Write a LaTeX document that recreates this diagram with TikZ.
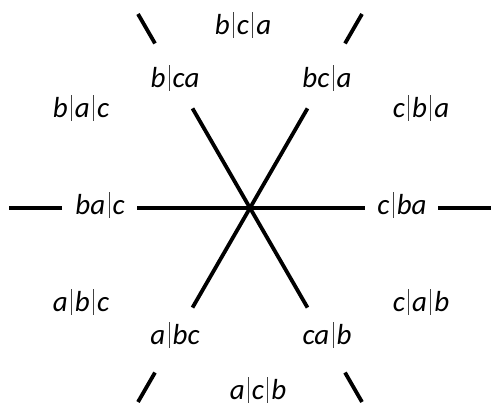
\documentclass[tikz,border=0pt]{standalone}
\usepackage{fontspec}
\setmainfont{Carlito}
\usetikzlibrary{calc}
\newcommand{\vb}{\kern3.4pt\textcolor{black!75}{\rule[-3pt]{0.9pt}{26pt}}\kern3pt}
\tikzset{
  seg/.style={line width=3.8pt},
  lab/.style={anchor=base, inner sep=0pt, font=\fontsize{29}{29}\selectfont\itshape},
}
\begin{document}
\begin{tikzpicture}[x=1pt,y=1pt]
\useasboundingbox (0,0) rectangle (493,406);
\coordinate (C) at (250,198);
% inner lines
\coordinate (h1) at ($(C)+(180:113)$);
\coordinate (h2) at ($(C)+(0:115)$);
\coordinate (d1) at ($(C)+(120:115)$);
\coordinate (d2) at ($(C)+(300:115)$);
\coordinate (e1) at ($(C)+(60:115)$);
\coordinate (e2) at ($(C)+(240:115)$);
\draw[seg] (h1) -- (C) -- (h2);
\draw[seg] (d1) -- (C) -- (d2);
\draw[seg] (e1) -- (C) -- (e2);
% outer segments
\coordinate (oh1a) at ($(C)+(180:188)$);
\coordinate (oh1b) at ($(C)+(180:241)$);
\coordinate (oh2a) at ($(C)+(0:188)$);
\coordinate (oh2b) at ($(C)+(0:241)$);
\draw[seg] (oh1a) -- (oh1b);
\draw[seg] (oh2a) -- (oh2b);
\foreach \a [count=\i] in {60,120,240,300}{
  \coordinate (od\i a) at ($(C)+(\a:190)$);
  \coordinate (od\i b) at ($(C)+(\a:224)$);
  \draw[seg] (od\i a) -- (od\i b);
}
% labels on lines
\node[lab] (bac) at (100,191) {ba\vb c};
\node[lab] (cba) at (402,191) {c\vb ba};
\node[lab] (bca) at (175,318) {b\vb ca};
\node[lab] (bca2) at (327,318) {bc\vb a};
\node[lab] (abc) at (175,61) {a\vb bc};
\node[lab] (cab) at (327,61) {ca\vb b};
% region labels
\node[lab] (r1) at (243,371) {b\vb c\vb a};
\node[lab] (r2) at (258,6) {a\vb c\vb b};
\node[lab] (r3) at (81,288) {b\vb a\vb c};
\node[lab] (r4) at (421,288) {c\vb b\vb a};
\node[lab] (r5) at (81,94) {a\vb b\vb c};
\node[lab] (r6) at (421,94) {c\vb a\vb b};
\end{tikzpicture}
\end{document}
